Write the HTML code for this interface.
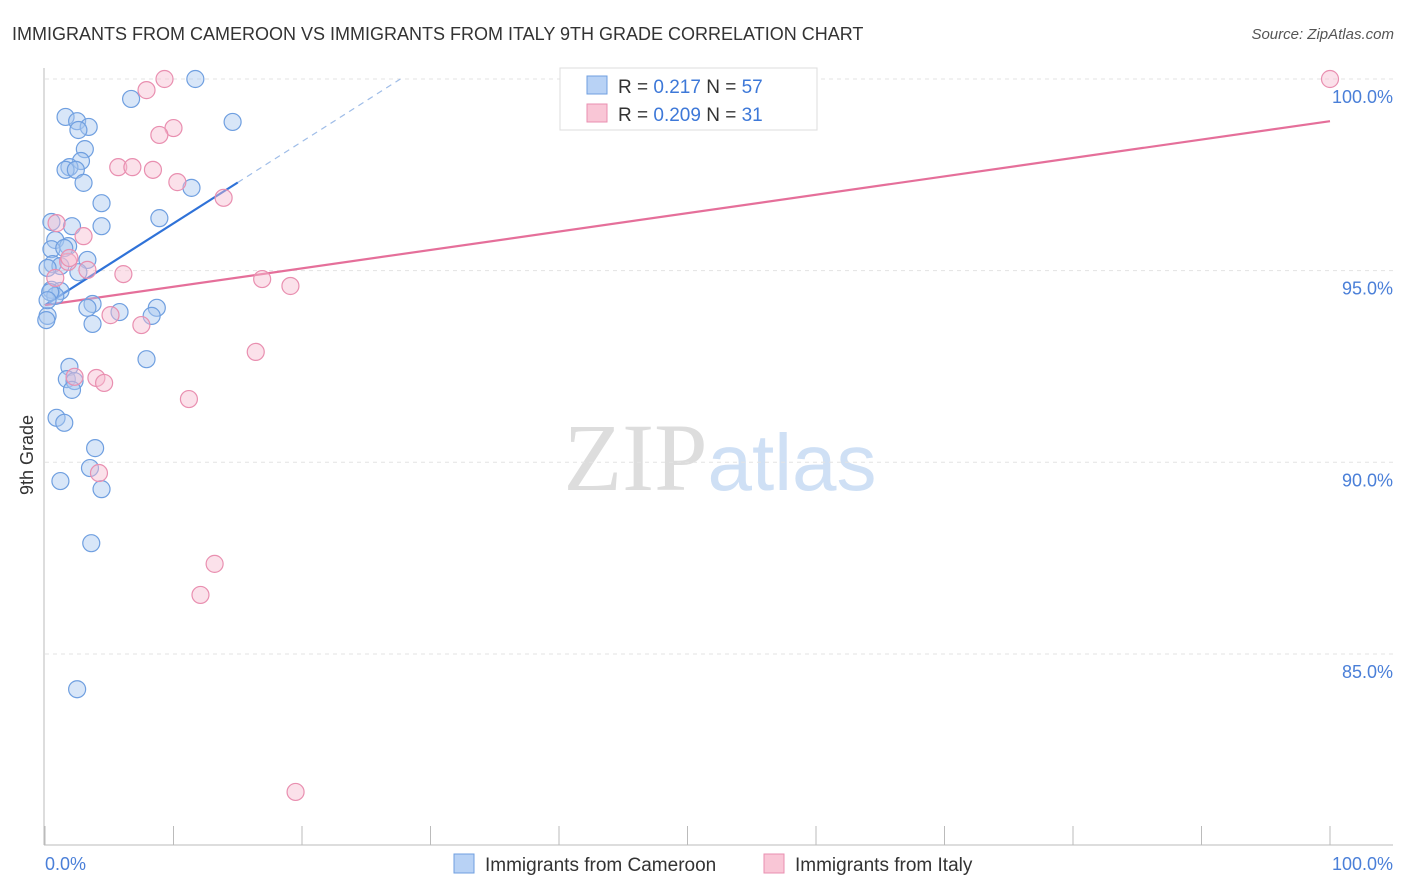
<!DOCTYPE html>
<html><head><meta charset="utf-8"><style>
body{margin:0;background:#fff;font-family:"Liberation Sans",sans-serif;}
svg{display:block}
</style></head><body>
<svg id="chart" width="1406" height="892" xmlns="http://www.w3.org/2000/svg">
<text x="12" y="40" font-size="18" fill="#333">IMMIGRANTS FROM CAMEROON VS IMMIGRANTS FROM ITALY 9TH GRADE CORRELATION CHART</text>
<text x="1394" y="39" font-size="15" fill="#555" text-anchor="end" font-style="italic">Source: ZipAtlas.com</text>
<text x="720" y="490" font-size="96" text-anchor="middle"><tspan fill="#ddd" font-family="Liberation Serif">ZIP</tspan><tspan fill="#cfe0f5" font-size="80">atlas</tspan></text>
<g id="grid"></g>
<g id="axes"></g>
<g id="lines"></g>
<g id="points"></g>
<text transform="translate(33,455) rotate(-90)" font-size="18" fill="#333" text-anchor="middle">9th Grade</text>
<text x="45" y="870" font-size="18" fill="#4a7fd8">0.0%</text>
<text x="1393" y="870" font-size="18" fill="#4a7fd8" text-anchor="end">100.0%</text>
<g>
<rect x="560" y="68" width="257" height="62" fill="#fff" stroke="#ddd"/>
<rect x="587" y="76" width="20" height="18" fill="#b8d2f5" stroke="#6f9fe0"/>
<rect x="587" y="104" width="20" height="18" fill="#f9c6d6" stroke="#e98fb0"/>
<text x="618" y="93" font-size="19" fill="#333">R = <tspan fill="#3d78d8">0.217</tspan>    N = <tspan fill="#3d78d8">57</tspan></text>
<text x="618" y="121" font-size="19" fill="#333">R = <tspan fill="#3d78d8">0.209</tspan>    N = <tspan fill="#3d78d8"> 31</tspan></text>
</g>
<g>
<rect x="454" y="854" width="20" height="19" fill="#b8d2f5" stroke="#6f9fe0"/>
<text x="485" y="871" font-size="19" fill="#333">Immigrants from Cameroon</text>
<rect x="764" y="854" width="20" height="19" fill="#f9c6d6" stroke="#e98fb0"/>
<text x="795" y="871" font-size="19" fill="#333">Immigrants from Italy</text>
</g>
</svg>
<script>
const yTicks=[100,95,90,85];
const yTickLabels=["100.0%","95.0%","90.0%","85.0%"];
const xTicks=[0,10,20,30,40,50,60,70,80,90,100];
const blueX=[11.7,6.7,1.6,2.5,3.4,2.6,14.6,3.1,2.8,1.9,1.6,2.4,3.0,11.4,4.4,8.9,0.5,2.1,4.4,0.8,1.8,0.5,1.5,3.3,0.6,1.2,0.2,2.6,0.5,1.2,0.8,3.7,3.3,5.8,8.7,8.3,0.2,0.1,3.7,7.9,1.9,1.7,2.3,2.1,0.9,1.5,3.9,3.5,1.2,4.4,3.6,2.5,0.4,0.2];
const blueY=[100,99.48,99.01,98.9,98.75,98.67,98.88,98.17,97.86,97.7,97.63,97.63,97.29,97.16,96.76,96.37,96.27,96.16,96.16,95.8,95.64,95.56,95.59,95.28,95.17,95.12,95.07,94.96,94.5,94.47,94.34,94.13,94.03,93.92,94.03,93.82,93.82,93.71,93.61,92.69,92.49,92.17,92.12,91.89,91.16,91.03,90.37,89.85,89.51,89.3,87.89,84.08,94.44,94.23];
const pinkX=[9.3,100,7.9,10.0,8.9,5.7,6.8,8.4,10.3,13.9,0.9,3.0,1.8,3.3,6.1,16.9,19.1,5.1,7.5,16.4,4.0,4.6,2.3,11.2,4.2,13.2,12.1,19.5,0.8,1.9];
const pinkY=[100,100,99.71,98.72,98.54,97.7,97.7,97.63,97.31,96.9,96.24,95.9,95.23,95.02,94.91,94.78,94.6,93.84,93.58,92.88,92.2,92.07,92.23,91.65,89.72,87.35,86.54,81.4,94.81,95.33];
const blueTrend=[94.1,97.3]; // y at x=0 and x=15
const pinkTrend=[94.1,98.9]; // y at x=0 and x=100
const NS="http://www.w3.org/2000/svg";
const X=v=>45+v*12.85, Y=v=>79+(100-v)*38.33;
function mk(t,a,p){const e=document.createElementNS(NS,t);for(const k in a)e.setAttribute(k,a[k]);document.getElementById(p).appendChild(e);return e;}
yTicks.forEach((t,i)=>{
 const l=mk('line',{x1:45,x2:1393,y1:Y(t),y2:Y(t),stroke:'#e3e3e3','stroke-dasharray':'4,4'},'grid');
 
 
 const tx=mk('text',{x:1393,y:Y(t)+24,'font-size':18,fill:'#4a7fd8','text-anchor':'end'},'grid');tx.textContent=yTickLabels[i];
 
 
});
let a=mk('line',{x1:44,x2:44,y1:68,y2:845,stroke:'#bbb'},'axes');


a=mk('line',{x1:44,x2:1393,y1:845,y2:845,stroke:'#bbb'},'axes');


xTicks.forEach(t=>{const e=mk('line',{x1:X(t),x2:X(t),y1:826,y2:845,stroke:'#bbb'},'axes');
 
 });
function pts(xs,ys,fill,stroke,name){xs.forEach((x,i)=>{const c=mk('circle',{cx:X(x),cy:Y(ys[i]),r:8.5,fill:fill,'fill-opacity':0.45,stroke:stroke,'stroke-width':1.2},'points');
 
 });}
pts(blueX,blueY,'#a9c8f0','#6f9fe0','cameroon-point');
pts(pinkX,pinkY,'#f7bcd0','#e98fb0','italy-point');
const bs=(blueTrend[1]-blueTrend[0])/15, xe=(100-blueTrend[0])/bs;
let l=mk('line',{x1:X(15),y1:Y(blueTrend[1]),x2:X(xe),y2:Y(100),stroke:'#9fbde8','stroke-width':1.2,'stroke-dasharray':'6,5'},'lines');


l=mk('line',{x1:X(0),y1:Y(blueTrend[0]),x2:X(15),y2:Y(blueTrend[1]),stroke:'#2f72d8','stroke-width':2.2},'lines');


l=mk('line',{x1:X(0),y1:Y(pinkTrend[0]),x2:X(100),y2:Y(pinkTrend[1]),stroke:'#e56f9a','stroke-width':2.2},'lines');


</script>
</body></html>
